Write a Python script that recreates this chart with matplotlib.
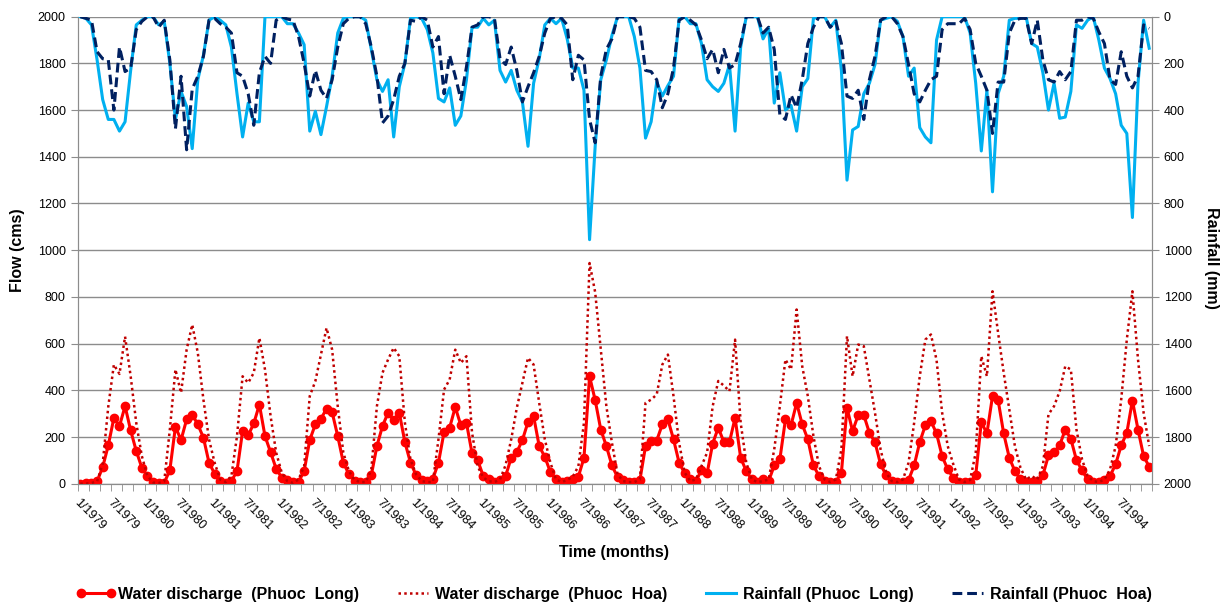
import matplotlib
matplotlib.use('Agg')
import matplotlib.pyplot as plt
import numpy as np

plt.rcParams['font.family'] = ['Liberation Sans', 'DejaVu Sans']

years = list(range(1979, 1995))
month_labels = [f'{m}/{y}' for y in years for m in range(1, 13)]

# monthly flow (cms), one row per year
flow_long = [
    0, 2, 5, 10, 71, 164, 282, 247, 332, 228, 140, 68,
    33, 8, 4, 4, 58, 244, 187, 275, 296, 254, 197, 90,
    43, 11, 4, 11, 54, 225, 207, 258, 339, 204, 135, 64,
    26, 15, 8, 8, 54, 187, 254, 278, 321, 306, 204, 90,
    40, 11, 8, 8, 36, 161, 247, 304, 271, 304, 178, 90,
    37, 16, 11, 21, 90, 221, 240, 328, 250, 261, 130, 101,
    33, 18, 8, 14, 33, 111, 135, 187, 264, 289, 161, 115,
    50, 18, 8, 11, 21, 30, 111, 460, 358, 232, 161, 78,
    28, 14, 8, 8, 16, 161, 185, 185, 254, 275, 190, 90,
    44, 18, 11, 58, 44, 172, 240, 178, 178, 282, 111, 54,
    18, 8, 18, 11, 78, 104, 275, 250, 346, 254, 190, 78,
    33, 11, 8, 8, 47, 325, 225, 294, 294, 218, 178, 83,
    36, 11, 8, 8, 16, 78, 178, 250, 268, 215, 118, 61,
    26, 8, 8, 8, 36, 264, 215, 375, 358, 215, 111, 54,
    18, 8, 8, 11, 36, 121, 135, 164, 232, 192, 101, 57,
    18, 8, 8, 16, 33, 83, 164, 218, 356, 232, 118, 73,
]
flow_hoa = [
    0, 0, 3, 10, 85, 330, 510, 470, 630, 460, 260, 118,
    33, 5, 3, 10, 232, 489, 389, 574, 681, 560, 360, 190,
    90, 18, 7, 33, 204, 460, 432, 475, 624, 489, 290, 133,
    47, 11, 3, 18, 75, 375, 439, 553, 667, 574, 332, 133,
    54, 16, 7, 7, 61, 332, 475, 532, 582, 546, 261, 104,
    40, 11, 7, 7, 190, 403, 446, 574, 517, 546, 218, 75,
    26, 11, 7, 18, 80, 190, 325, 432, 539, 510, 346, 190,
    90, 18, 7, 16, 30, 75, 261, 945, 820, 574, 332, 175,
    40, 11, 7, 7, 18, 346, 360, 382, 510, 553, 375, 175,
    47, 11, 18, 75, 133, 332, 440, 420, 396, 617, 261, 90,
    18, 7, 11, 18, 147, 332, 532, 489, 746, 503, 375, 204,
    75, 18, 7, 18, 147, 632, 460, 596, 589, 446, 304, 147,
    47, 11, 7, 18, 90, 261, 460, 617, 639, 530, 304, 161,
    83, 18, 7, 16, 133, 546, 460, 824, 646, 475, 318, 161,
    68, 18, 33, 18, 75, 297, 332, 396, 503, 489, 232, 104,
    33, 11, 7, 18, 61, 161, 361, 617, 824, 532, 304, 161,
]

# monthly rainfall (mm)
rain_long = [
    0, 7, 35, 185, 355, 440, 440, 490, 450, 230, 35, 15,
    0, 0, 35, 20, 200, 440, 320, 385, 565, 270, 165, 15,
    0, 15, 35, 130, 330, 515, 370, 450, 450, 0, 0, 0,
    0, 30, 30, 70, 120, 490, 405, 505, 385, 255, 70, 7,
    0, 0, 0, 15, 140, 270, 320, 270, 515, 300, 200, 7,
    0, 7, 55, 155, 350, 365, 305, 465, 425, 270, 45, 45,
    7, 35, 15, 230, 280, 230, 315, 365, 555, 285, 180, 35,
    7, 30, 7, 95, 220, 220, 315, 955, 555, 270, 185, 80,
    0, 0, 0, 85, 220, 520, 450, 280, 340, 295, 255, 7,
    0, 30, 30, 115, 270, 300, 320, 285, 205, 490, 130, 0,
    0, 0, 95, 50, 370, 240, 400, 380, 490, 300, 265, 7,
    0, 0, 45, 15, 230, 700, 485, 470, 330, 285, 205, 15,
    7, 0, 20, 85, 255, 220, 475, 515, 540, 100, 0, 0,
    0, 0, 0, 70, 285, 575, 315, 750, 330, 255, 15, 7,
    7, 0, 115, 130, 240, 400, 285, 435, 430, 320, 35, 50,
    15, 0, 100, 220, 265, 330, 465, 500, 860, 285, 15, 135,
]
rain_hoa = [
    0, 7, 15, 150, 180, 185, 400, 130, 235, 220, 55, 20,
    0, 0, 45, 15, 185, 480, 255, 570, 310, 255, 170, 15,
    7, 30, 45, 70, 240, 255, 330, 465, 240, 170, 200, 15,
    0, 10, 15, 85, 200, 340, 230, 315, 350, 270, 130, 30,
    7, 0, 0, 30, 130, 255, 455, 425, 355, 255, 200, 15,
    20, 0, 15, 130, 85, 330, 165, 255, 355, 215, 45, 35,
    0, 0, 7, 180, 205, 130, 230, 365, 300, 240, 170, 70,
    7, 0, 7, 35, 270, 165, 185, 440, 540, 255, 140, 95,
    0, 0, 0, 7, 45, 230, 235, 270, 390, 330, 220, 15,
    0, 15, 35, 100, 180, 140, 240, 140, 220, 205, 115, 0,
    0, 0, 70, 45, 140, 420, 440, 335, 390, 270, 115, 45,
    0, 0, 45, 20, 115, 340, 350, 315, 440, 270, 170, 15,
    0, 0, 30, 85, 205, 330, 365, 315, 270, 255, 55, 30,
    30, 30, 7, 55, 200, 255, 315, 500, 280, 280, 70, 15,
    7, 7, 115, 15, 185, 270, 280, 235, 270, 235, 15, 15,
    0, 7, 65, 115, 270, 290, 150, 255, 305, 255, 35, 50,
]

n = len(month_labels)
x = np.arange(n) + 0.5

fig = plt.figure(figsize=(12.26, 6.05), dpi=100)
ax = fig.add_axes([77.5 / 1226, 1 - 483.7 / 605, (1152 - 77.5) / 1226, (483.7 - 16.7) / 605])

l1, = ax.plot(x, flow_long, color='#FF0000', lw=2.2, marker='o', ms=6, zorder=3)
l2, = ax.plot(x, flow_hoa, color='#C00000', lw=1.8, ls=(0, (1, 1.3)), zorder=3)

ax.set_xlim(0, n)
ax.set_ylim(0, 2000)
ax.set_yticks(range(0, 2001, 200))
ax.grid(axis='y', color='#8c8c8c', lw=1)
ax.set_axisbelow(True)
ax.set_xticks(x[::6])
ax.set_xticklabels(month_labels[::6], rotation=-45, ha='left', va='top',
                   rotation_mode='anchor', fontsize=9)
ax.set_xticks(np.arange(0, n + 1, 2), minor=True)
ax.tick_params(axis='x', which='major', length=0, pad=9)
ax.tick_params(axis='x', which='minor', length=5, color='#8c8c8c')
ax.tick_params(axis='y', length=5, color='#8c8c8c', labelsize=9)
for s in ['left', 'bottom', 'right']:
    ax.spines[s].set_color('#8c8c8c')
ax.spines['top'].set_visible(False)

ax2 = ax.twinx()
l3, = ax2.plot(x, rain_long, color='#00B0F0', lw=2.2, zorder=3)
l4, = ax2.plot(x, rain_hoa, color='#002060', lw=2.2, ls=(0, (3.2, 1.6)), zorder=4)
ax2.set_ylim(2000, 0)
ax2.set_yticks(range(0, 2001, 200))
ax2.tick_params(axis='y', length=5, color='#8c8c8c', labelsize=9)
for s in ['left', 'bottom', 'right']:
    ax2.spines[s].set_color('#8c8c8c')
ax2.spines['top'].set_visible(False)

fig.text(614 / 1226, 1 - 553 / 605, 'Time (months)', ha='center', va='center',
         fontsize=11.5, fontweight='bold')
fig.text(18 / 1226, 1 - 250 / 605, 'Flow (cms)', ha='center', va='center',
         rotation=90, fontsize=11.5, fontweight='bold')
fig.text(1212 / 1226, 1 - 258 / 605, 'Rainfall (mm)', ha='center', va='center',
         rotation=-90, fontsize=11.5, fontweight='bold')

fig.legend([l1, l2, l3, l4],
           ['Water discharge  (Phuoc  Long)', 'Water discharge  (Phuoc  Hoa)',
            'Rainfall (Phuoc  Long)', 'Rainfall (Phuoc  Hoa)'],
           loc='center', bbox_to_anchor=(614 / 1226, 1 - 594 / 605), ncol=4, frameon=False,
           prop={'weight': 'bold', 'size': 11.5}, handlelength=2.5, numpoints=2,
           handletextpad=0.15, columnspacing=2.1)

fig.savefig('out.png', dpi=100)
